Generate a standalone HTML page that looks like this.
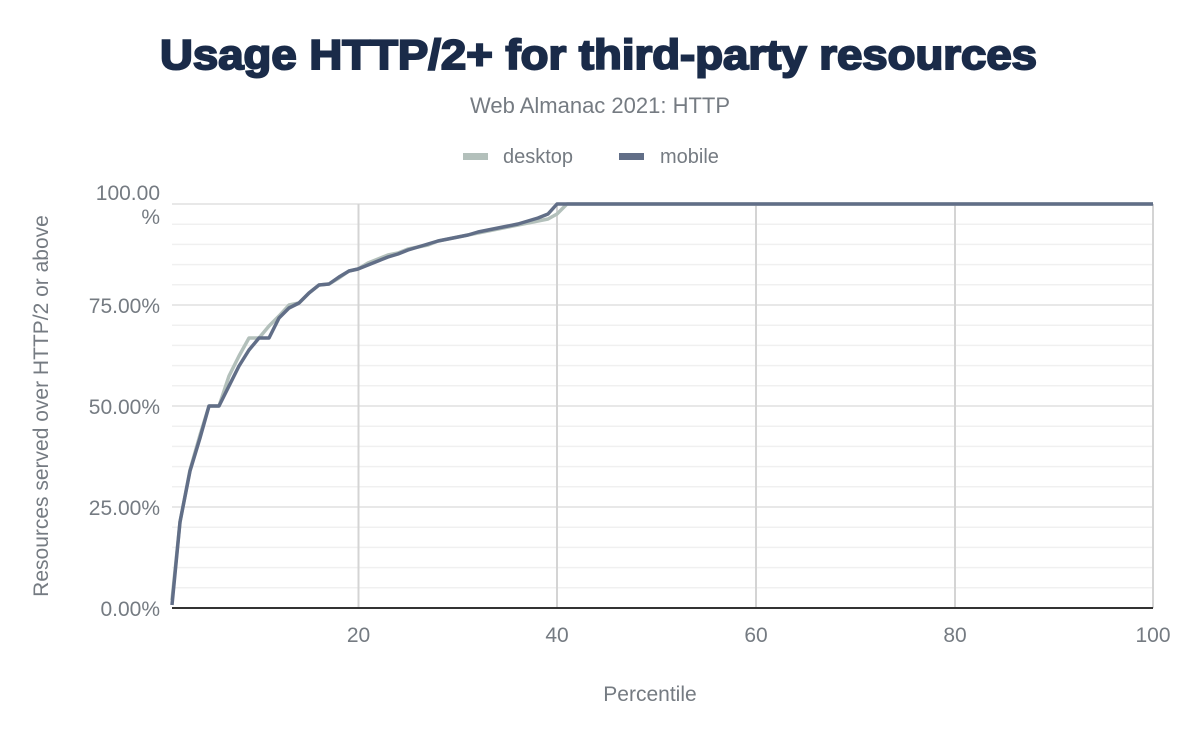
<!DOCTYPE html>
<html><head><meta charset="utf-8"><style>
body{margin:0;background:#fff;width:1200px;height:742px;overflow:hidden;font-family:"Liberation Sans",sans-serif}
</style></head><body>
<svg width="1200" height="742" xmlns="http://www.w3.org/2000/svg" font-family="Liberation Sans, sans-serif">
<text x="160" y="69" textLength="877" lengthAdjust="spacingAndGlyphs" font-size="42" font-weight="bold" fill="#1a2b49" stroke="#1a2b49" stroke-width="2">Usage HTTP/2+ for third-party resources</text>
<text x="600" y="113" text-anchor="middle" font-size="22" fill="#757b82">Web Almanac 2021: HTTP</text>
<rect x="463" y="153" width="25" height="7" fill="#b3c0bb"/>
<text x="503" y="163" font-size="20" fill="#757b82">desktop</text>
<rect x="619" y="153" width="25" height="7" fill="#616e87"/>
<text x="660" y="163" font-size="20" fill="#757b82">mobile</text>
<g stroke="#f0f0f0" stroke-width="1.5">
<line x1="172" x2="1153" y1="224.2" y2="224.2"/><line x1="172" x2="1153" y1="244.4" y2="244.4"/><line x1="172" x2="1153" y1="264.6" y2="264.6"/><line x1="172" x2="1153" y1="284.8" y2="284.8"/><line x1="172" x2="1153" y1="325.2" y2="325.2"/><line x1="172" x2="1153" y1="345.4" y2="345.4"/><line x1="172" x2="1153" y1="365.6" y2="365.6"/><line x1="172" x2="1153" y1="385.8" y2="385.8"/><line x1="172" x2="1153" y1="426.2" y2="426.2"/><line x1="172" x2="1153" y1="446.4" y2="446.4"/><line x1="172" x2="1153" y1="466.6" y2="466.6"/><line x1="172" x2="1153" y1="486.8" y2="486.8"/><line x1="172" x2="1153" y1="527.2" y2="527.2"/><line x1="172" x2="1153" y1="547.4" y2="547.4"/><line x1="172" x2="1153" y1="567.6" y2="567.6"/><line x1="172" x2="1153" y1="587.8" y2="587.8"/>
</g>
<g stroke="#e8e8e8" stroke-width="2">
<line x1="172" x2="1153" y1="204" y2="204"/><line x1="172" x2="1153" y1="305" y2="305"/><line x1="172" x2="1153" y1="406" y2="406"/><line x1="172" x2="1153" y1="507" y2="507"/>
</g>
<g stroke="#d4d4d4" stroke-width="2">
<line x1="358.5" x2="358.5" y1="204" y2="608"/><line x1="557" x2="557" y1="204" y2="608"/><line x1="756" x2="756" y1="204" y2="608"/><line x1="955" x2="955" y1="204" y2="608"/><line x1="1153" x2="1153" y1="204" y2="608"/>
</g>
<line x1="172" x2="1153" y1="608" y2="608" stroke="#333" stroke-width="2"/>
<g font-size="21" fill="#757b82" text-anchor="end">
<text x="160" y="200">100.00</text><text x="160" y="224">%</text>
<text x="160" y="313">75.00%</text><text x="160" y="414">50.00%</text><text x="160" y="515">25.00%</text><text x="160" y="616">0.00%</text>
</g>
<g font-size="21" fill="#757b82" text-anchor="middle">
<text x="358.5" y="642">20</text><text x="557" y="642">40</text><text x="756" y="642">60</text><text x="955" y="642">80</text><text x="1153" y="642">100</text>
<text x="650" y="701">Percentile</text>
<text transform="translate(48,406) rotate(-90)">Resources served over HTTP/2 or above</text>
</g>
<polyline fill="none" stroke="#b3c0bb" stroke-width="3.5" stroke-linejoin="round" points="172,600 180,522 190,470 200,435 209,406 219,406 229,376 239,356 249,338 259,338 269,326 279,316 289,305 299,303 309,293 319,285 329,284 339,278 349,271 358,269 368,263 378,259 388,255 398,253 408,249 418,247 428,245 438,241 448,239 458,237 468,235 478,233 488,231 498,229 508,227 518,225 528,223 538,221 548,219 557,214 567,204 1153,204"/>
<polyline fill="none" stroke="#616e87" stroke-width="3.5" stroke-linejoin="round" points="172,605 180,522 190,471 200,438 209,406 219,406 229,386 239,366 249,350 259,338 269,338 279,318 289,308 299,303 309,293 319,285 329,284 339,277 349,271 358,269 368,265 378,261 388,257 398,254 408,250 418,247 428,244 438,241 448,239 458,237 468,235 478,232 488,230 498,228 508,226 518,224 528,221 538,218 548,214 557,204 1153,204"/>
</svg>
</body></html>
